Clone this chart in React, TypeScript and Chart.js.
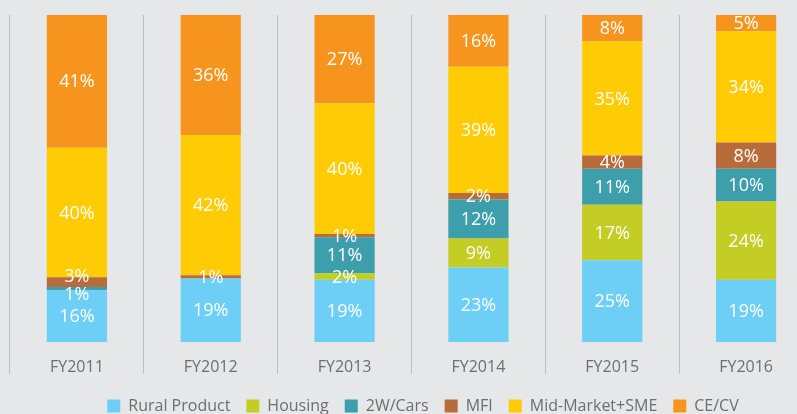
import React, { useEffect, useRef } from "react";
import { Chart, registerables } from "chart.js";

Chart.register(...registerables);

const categories = ["FY2011", "FY2012", "FY2013", "FY2014", "FY2015", "FY2016"];
const seriesNames = ["Rural Product", "Housing", "2W/Cars", "MFI", "Mid-Market+SME", "CE/CV"];
const ruralProduct = [16, 19, 19, 23, 25, 19];
const housing = [0, 0, 2, 9, 17, 24];
const twoWCars = [1, 0, 11, 12, 11, 10];
const mfi = [3, 1, 1, 2, 4, 8];
const midMarketSme = [40, 42, 40, 39, 35, 34];
const ceCv = [41, 36, 27, 16, 8, 5];
const seriesColors = ["#6dcff6", "#c3cd23", "#3d9fac", "#b96c3b", "#ffcb05", "#f7941d"];

const allSeries = [ruralProduct, housing, twoWCars, mfi, midMarketSme, ceCv];

const MIN_GAP = 18;

const segmentLabels = {
  id: "segmentLabels",
  afterDatasetsDraw(chart: any) {
    const ctx = chart.ctx;
    ctx.save();
    ctx.font = "18px 'Open Sans'";
    ctx.fillStyle = "#ffffff";
    ctx.textAlign = "center";
    ctx.textBaseline = "middle";
    const n = chart.data.labels.length;
    for (let i = 0; i < n; i++) {
      const items: { x: number; y: number; text: string }[] = [];
      chart.data.datasets.forEach((ds: any, d: number) => {
        const raw = ds.rawValues[i];
        if (!raw) return;
        const el = chart.getDatasetMeta(d).data[i];
        items.push({ x: el.x, y: (el.y + el.base) / 2, text: raw + "%" });
      });
      items.sort((a, b) => b.y - a.y);
      for (let iter = 0; iter < 10; iter++) {
        for (let k = 0; k < items.length - 1; k++) {
          const a = items[k];
          const b = items[k + 1];
          const gap = a.y - b.y;
          if (gap < MIN_GAP) {
            const s = (MIN_GAP - gap) / 2;
            a.y += s;
            b.y -= s;
          }
        }
      }
      items.forEach((it) => ctx.fillText(it.text, it.x, it.y + 1));
    }
    ctx.restore();
  },
};

export default function App() {
  const ref = useRef<HTMLCanvasElement | null>(null);

  useEffect(() => {
    if (!ref.current) return;
    Chart.defaults.font.family = "'Open Sans'";
    const totals = categories.map((_, i) => allSeries.reduce((s, arr) => s + arr[i], 0));
    const chart = new Chart(ref.current, {
      type: "bar",
      data: {
        labels: categories,
        datasets: allSeries.map((arr, d) => ({
          label: seriesNames[d],
          data: arr.map((v, i) => (v / totals[i]) * 100),
          rawValues: arr,
          backgroundColor: seriesColors[d],
          borderWidth: 0,
          barPercentage: 0.45,
          categoryPercentage: 1,
        })) as any,
      },
      options: {
        responsive: false,
        animation: false,
        layout: { padding: { top: 15, left: 10, right: 0, bottom: 0 } },
        plugins: {
          tooltip: { enabled: false },
          legend: {
            display: true,
            position: "bottom",
            labels: {
              boxWidth: 13,
              boxHeight: 13,
              padding: 16,
              color: "#6d6e71",
              font: { size: 16, family: "'Open Sans'" },
            },
          },
        },
        scales: {
          x: {
            stacked: true,
            grid: {
              display: true,
              offset: true,
              color: "#bcbec0",
              tickColor: "#bcbec0",
              lineWidth: 1,
              tickLength: 32,
              drawTicks: true,
            },
            border: { display: false },
            ticks: {
              padding: -16,
              color: "#6d6e71",
              font: { size: 16, family: "'Open Sans'" },
              maxRotation: 0,
              autoSkip: false,
            },
            afterFit: (s: any) => {
              s.height = 40;
            },
          },
          y: {
            stacked: true,
            min: 0,
            max: 100,
            position: "right",
            display: true,
            grid: { display: false },
            ticks: { display: false },
            border: { display: false },
            afterFit: (s: any) => {
              s.width = 23;
            },
          },
        },
      },
      plugins: [segmentLabels],
    });
    return () => chart.destroy();
  }, []);

  return (
    <div
      style={{
        position: "fixed",
        left: 0,
        top: 0,
        width: 797,
        height: 414,
        overflow: "hidden",
        background: "#e6e7e8",
      }}
    >
      <canvas ref={ref} width={836} height={424} style={{ display: "block" }} />
    </div>
  );
}
